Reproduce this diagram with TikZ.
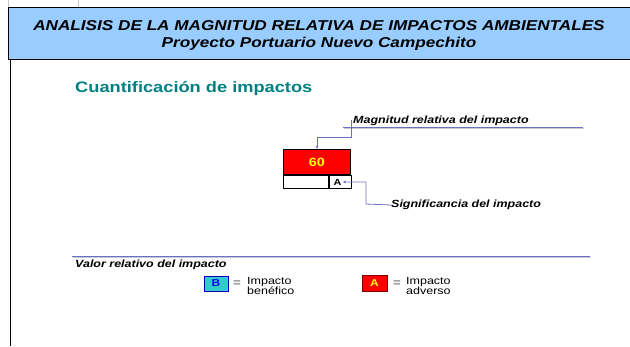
\documentclass[tikz,border=0pt]{standalone}
\usepackage{fontspec}
\setmainfont{Liberation Sans}[FakeStretch=1.2]
\usetikzlibrary{arrows.meta,positioning,calc}
\definecolor{camHeaderBlue}{RGB}{153, 204, 255}
\definecolor{camTeal}{RGB}{0, 128, 128}
\definecolor{camLine}{RGB}{110, 110, 200}
\definecolor{camShadow}{RGB}{200, 200, 210}
\definecolor{camCyan}{RGB}{51, 204, 204}
\definecolor{camBlue}{RGB}{0, 0, 255}
\definecolor{camYellow}{RGB}{255, 255, 0}

\begin{document}
\begin{tikzpicture}[
  x=1pt,y=-1pt,
  cellbox/.style={
    draw,
    line width=1pt,
    inner sep=0pt,
    anchor=north west
  },
  keybox/.style={
    draw,
    line width=0.8pt,
    inner sep=0pt,
    minimum width=24pt,
    minimum height=15pt,
    font=\fontsize{10}{10}\selectfont\bfseries
  },
  keytext/.style={
    anchor=west,
    align=left,
    inner sep=0pt,
    font=\fontsize{10.4}{10.5}\selectfont
  },
  label/.style={
    anchor=west,
    inner sep=0pt,
    font=\fontsize{10.4}{10.4}\selectfont\bfseries\itshape
  },
  conn/.style={
    -{Latex[length=3pt,width=3pt]},
    camLine,
    line width=0.8pt
  }
]
  \useasboundingbox (0,0) rectangle (630,346);
  % header band
  \draw[camShadow,line width=0.6pt] (8,0) -- (8,7) (78,0) -- (78,7);
  \fill[camHeaderBlue] (8,7) rectangle (630,59);
  \draw[line width=1pt] (630,7) -- (8,7) -- (8,59) -- (630,59);
  \draw[line width=1.6pt] (10.5,59) -- (10.5,346);
  \node[font=\fontsize{14.3}{16.5}\selectfont\bfseries\itshape,align=center] (title) at (319,35.5)
    {ANALISIS DE LA MAGNITUD RELATIVA DE IMPACTOS AMBIENTALES\\Proyecto Portuario Nuevo Campechito};
  \node[anchor=west,inner sep=0pt,text=camTeal,font=\fontsize{15.2}{15}\selectfont\bfseries] (heading) at (75,88)
    {Cuantificación de impactos};

  % impact cell
  \node[cellbox,fill=red,minimum width=67pt,minimum height=25pt,text=camYellow,
    font=\fontsize{12}{12}\selectfont\bfseries] (mag) at (283,149) {60};
  \node[cellbox,fill=white,minimum width=45pt,minimum height=13pt] (cellL) at (mag.south west) {};
  \node[cellbox,fill=white,minimum width=22pt,minimum height=13pt] (cellA) at (cellL.north east) {};
  \node[inner sep=0pt,font=\fontsize{9}{9}\selectfont\bfseries] (aTxt) at ($(cellA.center)+(-3,0)$) {A};

  % labels and connectors
  \node[label] (magLabel) at (353,121) {Magnitud relativa del impacto};
  \draw[camShadow,line width=1.2pt] (344,128.5) -- (584,128.5);
  \draw[camLine,line width=0.9pt] (343,127) -- (583,127);
  \coordinate (magBend) at (351,137);
  \draw[conn] (351,120) -- (magBend) -| (mag.north);
  \node[label] (sigLabel) at (391,205) {Significancia del impacto};
  \coordinate (sigBend) at (366,204);
  \draw[conn] (sigLabel.west) -- (sigBend) |- ($(aTxt.east)+(1,0)$);

  % key
  \draw[camShadow,line width=1.2pt] (73,257.5) -- (591,257.5);
  \draw[camLine,line width=0.9pt] (72,256) -- (590,256);
  \node[label] (keyTitle) at (75,265) {Valor relativo del impacto};
  \node[keybox,draw=blue!70!black,fill=camCyan,text=camBlue] (keyB) at (216,283.5) {B};
  \node[inner sep=0pt,text=gray,font=\fontsize{11}{11}\selectfont\bfseries] (eqB) at (237,284) {=};
  \node[keytext] (textB) at (247,286) {Impacto\\benéfico};
  \node[keybox,draw=red!50!black,fill=red,text=camYellow,minimum width=25pt,minimum height=16pt] (keyA) at (374.5,283.5) {A};
  \node[inner sep=0pt,text=gray,font=\fontsize{11}{11}\selectfont\bfseries] (eqA) at (397,284) {=};
  \node[keytext] (textA) at (406,286) {Impacto\\adverso};
\end{tikzpicture}
\end{document}
